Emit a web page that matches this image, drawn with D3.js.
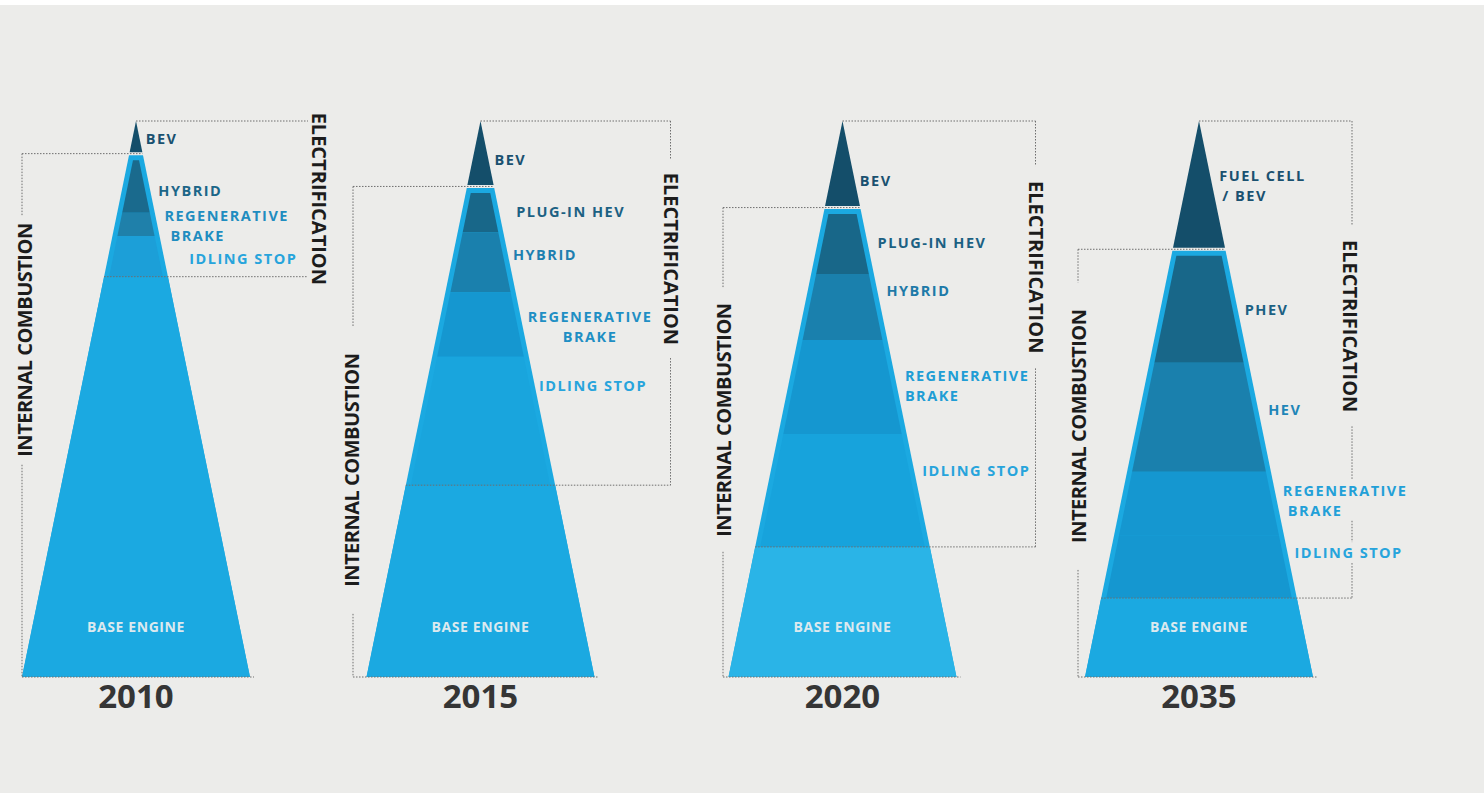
<!DOCTYPE html>
<html>
<head>
<meta charset="utf-8">
<script src="https://cdn.jsdelivr.net/npm/d3@7"></script>
<style>
  html, body { margin: 0; padding: 0; background: #ececea; }
  svg { display: block; }
  text { font-family: "Open Sans", sans-serif; font-weight: 700; }
</style>
</head>
<body>
<div id="chart"></div>
<script>
const WIDTH = 1484;
const HEIGHT = 793;

// Years shown, one pyramid each
const YEARS = ["2010", "2015", "2020", "2035"];

// Band bottoms, as share of the pyramid height (0 = base, 100 = apex)
const BEV_BOTTOM = [94.4, 88.5, 84.7, 77.2];
const PHEV_BOTTOM = [93.0, 80.0, 72.5, 56.5]; // 2010 has no plug-in band
const HYBRID_BOTTOM = [83.5, 69.2, 60.6, 36.9];
const REGEN_BOTTOM = [79.3, 57.6, 43.7, 25.5];
const IDLING_BOTTOM = [72.0, 34.5, 23.4, 14.2];

// Label texts, "|" splits lines
const LABEL_TEXT = [
  ["BEV", "HYBRID", "REGENERATIVE|BRAKE", "IDLING STOP"],
  ["BEV", "PLUG-IN HEV", "HYBRID", "REGENERATIVE|BRAKE", "IDLING STOP"],
  ["BEV", "PLUG-IN HEV", "HYBRID", "REGENERATIVE|BRAKE", "IDLING STOP"],
  ["FUEL CELL|/ BEV", "PHEV", "HEV", "REGENERATIVE|BRAKE", "IDLING STOP"],
];
const LABEL_LEVEL = [
  [96.8, 87.4, 81.2, 75.2],
  [93.0, 83.6, 75.9, 62.9, 52.3],
  [89.2, 78.0, 69.4, 52.3, 37.1],
  [88.3, 66.0, 48.0, 31.7, 22.3],
];

const BRACKET_TEXT = ["ELECTRIFICATION", "INTERNAL COMBUSTION"];
const BASE_TEXT = "BASE ENGINE";

// Layout
const BASE_Y = 677;
const APEX_Y = 121;
const HALF_BASE = 114;
const GAP_PX = 3; // gap under the electric apex
const INSET_PX = 5; // light rim around the inner bands
const LINE_H = 20;

const LABEL_DX = [
  [6, 8, 7, 25],
  [6, 17, 5, 5, 4],
  [5, 10, 9, 8, 8],
  [7, 7, 10, 6, 7],
];
// second-line indent, or "c" to center under the first line
const LABEL_INDENT = [
  [0, 0, 6, 0],
  [0, 0, 0, "c", 0],
  [0, 0, 0, 0, 0],
  [3, 0, 0, 5, 0],
];
const ELEC_X = [172, 190, 193, 153];
const ELEC_TEXT_DX = [11, 0, 0, -2];
const ELEC_TEXT_LEVEL = [86.0, 75.2, 73.7, 63.1];
const ELEC_MARGIN = [12, 13, 15, 14];
const IC_X = [-114, -127.5, -119.5, -121];
const IC_TEXT_DX = [3, -1, 1, 1];
const IC_TEXT_LEVEL = [60.6, 37.2, 46.2, 45.1];
const IC_MARGIN = [8, 27, 15, 27];

const OUTER_COLOR = "#1ba9e1";
const BAND_COLORS = {
  2010: { bev: "#144e6a", phev: "#186789", hybrid: "#1a6a8d", regen: "#1f80aa", idling: "#1c9fd8", base: "#1ba9e1" },
  2015: { bev: "#144e6a", phev: "#186789", hybrid: "#1a80ad", regen: "#1597d0", idling: "#19a5dd", base: "#1ba9e1" },
  2020: { bev: "#144e6a", phev: "#186789", hybrid: "#1a80ad", regen: "#1597d0", idling: "#17a3dc", base: "#2ab4e7" },
  2035: { bev: "#144e6a", phev: "#186789", hybrid: "#1a80ad", regen: "#1597d0", idling: "#1597d0", base: "#1ba9e1" },
};
const LABEL_COLORS = [
  ["#1a5170", "#1c6688", "#1f8dc0", "#27a4dc"],
  ["#1a5170", "#1c6183", "#1e7fb0", "#1f8fc4", "#27a4dc"],
  ["#1a5170", "#1c6183", "#1e7aa8", "#209dd5", "#27a4dc"],
  ["#1a5170", "#1c6183", "#1f86b8", "#22a0d8", "#27a4dc"],
];
const DOT_COLOR = "#6e6e6e";

const svg = d3
  .select("#chart")
  .append("svg")
  .attr("width", WIDTH)
  .attr("height", HEIGHT);

svg.append("rect").attr("width", WIDTH).attr("height", HEIGHT).attr("fill", "#ececea");
svg.append("rect").attr("width", WIDTH).attr("height", 5).attr("fill", "#ffffff");

// Scales
const y = d3.scaleLinear().domain([0, 100]).range([BASE_Y, APEX_Y]);
const half = d3.scaleLinear().domain([0, 100]).range([HALF_BASE, 0]);
const x = d3.scaleOrdinal().domain(YEARS).range([136, 480.5, 842.5, 1199]);
const pxToLevel = (px) => px / ((BASE_Y - APEX_Y) / 100);

const line = d3.line();

function trapezoid(cx, vTop, vBot, inset) {
  const pts = [
    [cx - Math.max(half(vTop) - inset, 0), y(vTop)],
    [cx + Math.max(half(vTop) - inset, 0), y(vTop)],
    [cx + half(vBot) - inset, y(vBot)],
    [cx - half(vBot) + inset, y(vBot)],
  ];
  return line(pts) + "Z";
}

// Remove [a,b] intervals from a vertical span
function segments(y0, y1, holes) {
  let out = [[y0, y1]];
  holes.forEach(([a, b]) => {
    const next = [];
    out.forEach(([s, e]) => {
      if (b <= s || a >= e) next.push([s, e]);
      else {
        if (a > s) next.push([s, a]);
        if (b < e) next.push([b, e]);
      }
    });
    out = next;
  });
  return out.filter(([s, e]) => e - s > 1);
}

function dotted(g, x1, y1, x2, y2) {
  g.append("line")
    .attr("x1", x1)
    .attr("y1", y1)
    .attr("x2", x2)
    .attr("y2", y2)
    .attr("stroke", DOT_COLOR)
    .attr("stroke-width", 1)
    .attr("stroke-dasharray", "1.5,1.5");
}

const pyramids = svg.append("g");
const lines = svg.append("g");
const texts = svg.append("g");

YEARS.forEach((year, i) => {
  const cx = x(year);
  const colors = BAND_COLORS[year];
  const g = pyramids.append("g");

  // Electric apex
  g.append("path").attr("d", trapezoid(cx, 100, BEV_BOTTOM[i], 0)).attr("fill", colors.bev);

  // Internal combustion body
  const outerTop = BEV_BOTTOM[i] - pxToLevel(GAP_PX);
  g.append("path").attr("d", trapezoid(cx, outerTop, 0, 0)).attr("fill", OUTER_COLOR);

  const innerTop = outerTop - pxToLevel(INSET_PX);
  const bands = [
    ["phev", innerTop, PHEV_BOTTOM[i]],
    ["hybrid", Math.min(innerTop, PHEV_BOTTOM[i]), HYBRID_BOTTOM[i]],
    ["regen", HYBRID_BOTTOM[i], REGEN_BOTTOM[i]],
    ["idling", REGEN_BOTTOM[i], IDLING_BOTTOM[i]],
  ];
  bands
    .filter((b) => b[1] > b[2])
    .forEach(([key, top, bot]) => {
      g.append("path").attr("d", trapezoid(cx, top, bot, INSET_PX)).attr("fill", colors[key]);
    });

  g.append("path").attr("d", trapezoid(cx, IDLING_BOTTOM[i], 0, 0)).attr("fill", colors.base);

  // Base engine label
  texts
    .append("text")
    .attr("x", cx)
    .attr("y", 627)
    .attr("dy", "0.35em")
    .attr("text-anchor", "middle")
    .attr("fill", "#dce9ef")
    .style("font-size", "14px")
    .style("letter-spacing", "0.6px")
    .text(BASE_TEXT);

  // Year
  texts
    .append("text")
    .attr("x", cx)
    .attr("y", 708)
    .attr("text-anchor", "middle")
    .attr("fill", "#353535")
    .style("font-size", "33px")
    .text(year);

  // Band labels, one text element each (two-line labels use tspans)
  const labelBoxes = [];
  LABEL_TEXT[i].forEach((label, j) => {
    const parts = label.split("|");
    const v = LABEL_LEVEL[i][j];
    const lx = cx + half(v) + LABEL_DX[i][j];
    const y0 = y(v) - ((parts.length - 1) * LINE_H) / 2;
    const t = texts
      .append("text")
      .attr("fill", LABEL_COLORS[i][j])
      .style("font-size", "14.5px")
      .style("letter-spacing", "1.5px");
    const first = t.append("tspan").attr("x", lx).attr("y", y0).attr("dy", "0.35em").text(parts[0]);
    if (parts.length > 1) {
      const indent = LABEL_INDENT[i][j];
      const second = t
        .append("tspan")
        .attr("y", y0 + LINE_H)
        .attr("dy", "0.35em")
        .text(parts[1]);
      if (indent === "c") {
        second
          .attr("x", lx + first.node().getComputedTextLength() / 2)
          .attr("text-anchor", "middle");
      } else {
        second.attr("x", lx + indent);
      }
    }
    labelBoxes.push(t.node().getBBox());
  });

  // Electrification bracket
  const ex = cx + ELEC_X[i];
  const eBot = y(IDLING_BOTTOM[i]);
  dotted(lines, cx, APEX_Y, ex, APEX_Y);
  dotted(lines, cx - half(IDLING_BOTTOM[i]), eBot, ex, eBot);
  const et = texts
    .append("text")
    .attr("transform", `translate(${ex + ELEC_TEXT_DX[i]},${y(ELEC_TEXT_LEVEL[i])}) rotate(90)`)
    .attr("text-anchor", "middle")
    .attr("dy", "0.35em")
    .attr("fill", "#1c1c1c")
    .style("font-size", "20px")
    .style("letter-spacing", "0px")
    .text(BRACKET_TEXT[0]);
  const eHalf = et.node().getComputedTextLength() / 2;
  const eHoles = [[y(ELEC_TEXT_LEVEL[i]) - eHalf - ELEC_MARGIN[i], y(ELEC_TEXT_LEVEL[i]) + eHalf + ELEC_MARGIN[i]]];
  labelBoxes
    .filter((b) => b.x < ex && b.x + b.width > ex)
    .forEach((b) => eHoles.push([b.y - 1, b.y + b.height + 1]));
  segments(APEX_Y, eBot, eHoles).forEach(([s, e]) => dotted(lines, ex, s, ex, e));

  // Internal combustion bracket
  const ix = cx + IC_X[i];
  const iTop = y(BEV_BOTTOM[i]) + GAP_PX / 2;
  dotted(lines, ix, iTop, cx + half(BEV_BOTTOM[i]), iTop);
  dotted(lines, ix, BASE_Y, cx + HALF_BASE + 4, BASE_Y);
  const it = texts
    .append("text")
    .attr("transform", `translate(${ix + IC_TEXT_DX[i]},${y(IC_TEXT_LEVEL[i])}) rotate(-90)`)
    .attr("text-anchor", "middle")
    .attr("dy", "0.35em")
    .attr("fill", "#1c1c1c")
    .style("font-size", "20px")
    .style("letter-spacing", "-0.5px")
    .text(BRACKET_TEXT[1]);
  const iHalf = it.node().getComputedTextLength() / 2;
  const iHoles = [[y(IC_TEXT_LEVEL[i]) - iHalf - IC_MARGIN[i], y(IC_TEXT_LEVEL[i]) + iHalf + IC_MARGIN[i]]];
  segments(iTop, BASE_Y, iHoles).forEach(([s, e]) => dotted(lines, ix, s, ix, e));
});
</script>
</body>
</html>
